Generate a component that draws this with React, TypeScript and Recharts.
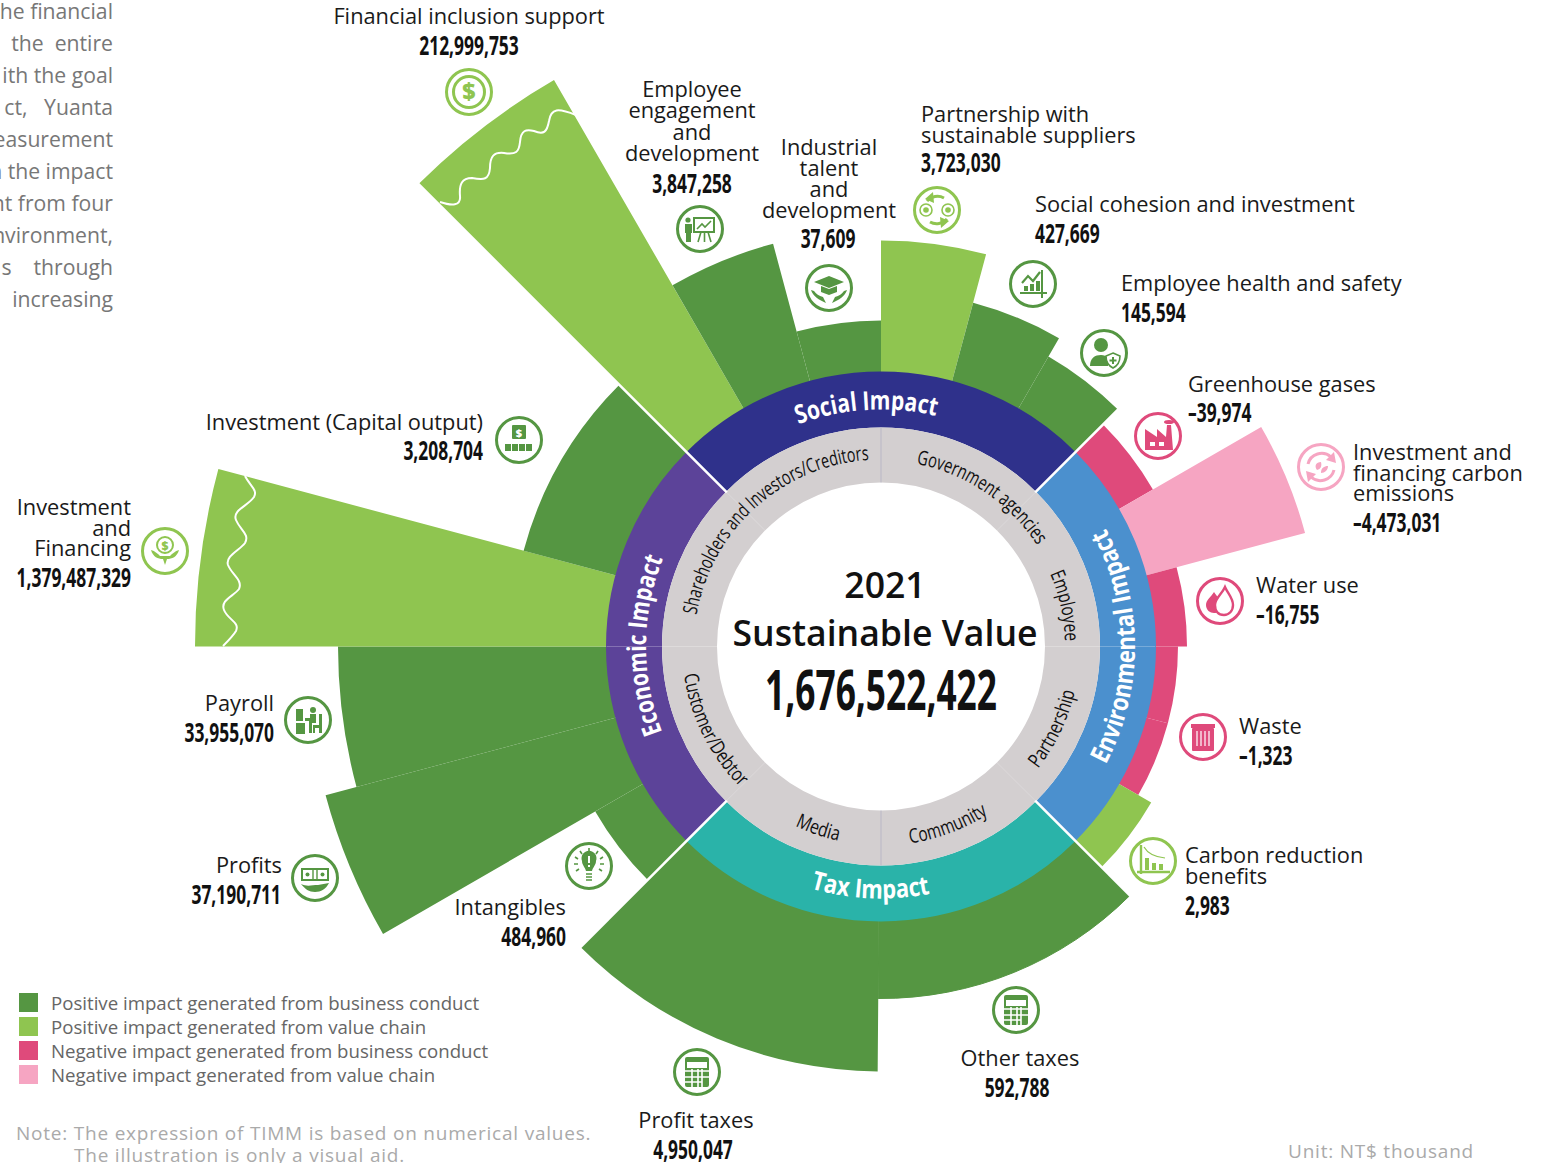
import { Legend, Pie, PieChart, Cell, Sector } from 'recharts';

// wedges clockwise from 12 o'clock, one slot is 15 degrees
const wedgeNames = [
    'Partnership with sustainable suppliers', 'Social cohesion and investment', 'Employee health and safety',
    'Greenhouse gases', 'Investment and financing carbon emissions', 'Water use', 'Waste (part)', 'Waste',
    'Carbon reduction benefits', 'Other taxes', 'Profit taxes', 'Intangibles', 'Profits', 'Payroll',
    'Investment and Financing', 'Investment (Capital output)', 'Financial inclusion support',
    'Employee engagement and development', 'Industrial talent and development',
];
const wedgeValues = [
    3723030, 427669, 145594, -39974, -4473031, -16755, null, -1323, 2983, 592788, 4950047, 484960,
    37190711, 33955070, 1379487329, 3208704, 212999753, 3847258, 37609,
];
const wedgeSlots = [1, 1, 1, 1, 1, 1, 1, 1, 1, 3.03, 2.97, 1, 1, 1, 1, 2, 1, 1, 1];
// drawn length of each wedge, the picture does not scale it with the value
const wedgeLengths = [131, 81, 60, 39, 164, 31, 22, 22, 37, 77, 150, 55, 300, 268, 411, 95, 379, 142, 51];
const wedgeKinds = ['vc', 'bc', 'bc', 'nb', 'nv', 'nb', 'nb', 'nb', 'vc', 'bc', 'bc', 'bc', 'bc', 'bc', 'vc', 'bc', 'vc', 'bc', 'bc'];

const impactNames = ['Social Impact', 'Social Impact', 'Environmental Impact', 'Environmental Impact', 'Tax Impact', 'Tax Impact', 'Economic Impact', 'Economic Impact'];
const stakeholderNames = ['Government agencies', 'Employee', 'Partnership', 'Community', 'Media', 'Customer/Debtor', 'Shareholders', 'Investors/Creditors'];

const legendKinds = ['bc', 'vc', 'nb', 'nv'];
const legendLabels = [
    'Positive impact generated from business conduct',
    'Positive impact generated from value chain',
    'Negative impact generated from business conduct',
    'Negative impact generated from value chain',
];
const introLines = ['he financial', 'the  entire', 'ith the goal', 'ct,   Yuanta', 'easurement', 'n the impact', 'nt from four', 'nvironment,', 's    through', 'increasing'];

const CX = 881;
const CY = 646.5;
const RING_OUTER = 275;
const RING_INNER = 219;
const HOLE = 164;

const kindColors: Record<string, string> = { bc: '#559642', vc: '#8FC550', nb: '#DF4A7B', nv: '#F6A5C2' };
const impactColors = ['#2F318B', '#2F318B', '#4B90CE', '#4B90CE', '#2AB3A9', '#2AB3A9', '#5C4399', '#5C4399'];
const SANS = '"Open Sans", sans-serif';

const wedgeData = wedgeNames.map((name, i) => ({ name, slots: wedgeSlots[i], length: wedgeLengths[i], value: wedgeValues[i] }));
const impactData = impactNames.map((name) => ({ name, slots: 3 }));
const stakeholderData = stakeholderNames.map((name) => ({ name, slots: 3 }));

function pt(deg: number, r: number) {
    const a = (deg * Math.PI) / 180;
    return { x: CX + r * Math.sin(a), y: CY - r * Math.cos(a) };
}

function WedgeShape(props: any) {
    // the two tax wedges meet without a seam
    const seamless = props.payload.name === 'Other taxes';
    return (
        <Sector
            {...props}
            outerRadius={RING_OUTER + props.payload.length}
            stroke={seamless ? props.fill : 'none'}
            strokeWidth={seamless ? 1 : 0}
        />
    );
}

// name, center angle, radius, text length, counter clockwise
const ringLabels: [string, number, number, number, boolean, number, string, number][] = [
    ['Social Impact', -3.5, 237, 140, false, 26, '#fff', 700],
    ['Environmental Impact', 90, 254, 246, true, 26, '#fff', 700],
    ['Tax Impact', 182.5, 252, 121, true, 26, '#fff', 700],
    ['Economic Impact', 270.3, 235, 178, false, 26, '#fff', 700],
    ['Government agencies', 34, 186, 150, false, 20, '#111', 500],
    ['Employee', 77.5, 184, 70, false, 20, '#111', 500],
    ['Partnership', 115.5, 199, 86, true, 20, '#111', 500],
    ['Community', 159.5, 199, 84, true, 20, '#111', 500],
    ['Media', 199, 199, 46, true, 20, '#111', 500],
    ['Customer/Debtor', 243.5, 199, 128, true, 20, '#111', 500],
    ['Shareholders and Investors/Creditors', 318, 187, 250, false, 20, '#111', 500],
];

function RingLabels() {
    return (
        <g>
            {ringLabels.map(([text, center, r, len, ccw, size, color, weight], i) => {
                const from = pt(center + (ccw ? 85 : -85), r);
                const to = pt(center + (ccw ? -85 : 85), r);
                const d = `M${from.x},${from.y} A${r},${r} 0 0 ${ccw ? 0 : 1} ${to.x},${to.y}`;
                return (
                    <g key={text}>
                        <path id={`ring-${i}`} d={d} fill="none" />
                        <text fontFamily={SANS} fontSize={size} fontWeight={weight} fill={color} textAnchor="middle">
                            <textPath href={`#ring-${i}`} startOffset="50%" textLength={len} lengthAdjust="spacingAndGlyphs">
                                {text}
                            </textPath>
                        </text>
                    </g>
                );
            })}
        </g>
    );
}

function Icon({ x, y, kind, glyph }: { x: number; y: number; kind: string; glyph: string }) {
    const c = kindColors[kind];
    const body = () => {
        switch (glyph) {
            case 'dollar':
                return (
                    <>
                        <circle r={15.5} fill="none" stroke={c} strokeWidth={3} />
                        <text y={8} textAnchor="middle" fontFamily={SANS} fontWeight={800} fontSize={23} fill={c}>$</text>
                    </>
                );
            case 'board':
                return (
                    <>
                        <rect x={-6} y={-11} width={20} height={14} fill="none" stroke={c} strokeWidth={2} />
                        <path d="M-3,0 L2,-5 L5,-2 L11,-8 M1,3 L-2,13 M8,3 L11,13 M4.5,3 V13" fill="none" stroke={c} strokeWidth={1.6} />
                        <circle cx={-12} cy={-9} r={2.6} fill={c} />
                        <path d="M-15,-5 H-8 V4 H-9 V13 H-14 V4 H-15 Z" fill={c} />
                    </>
                );
            case 'cap':
                return (
                    <>
                        <path d="M0,-12 L15,-6 L0,0 L-15,-6 Z M-8,-2 L0,1 L8,-2 V4 L0,7 L-8,4 Z" fill={c} />
                        <path d="M-18,2 C-16,8 -10,12 -3,15 L-6,9 C-10,8 -13,6 -15,3 Z M18,2 C16,8 10,12 3,15 L6,9 C10,8 13,6 15,3 Z" fill={c} />
                    </>
                );
            case 'cycle':
                return (
                    <>
                        <path d="M-10,-9 A14,14 0 0 1 7,-12 M10,9 A14,14 0 0 1 -7,12" fill="none" stroke={c} strokeWidth={3} />
                        <path d="M-4,-18 L-12,-11 L-3,-7 Z M4,18 L12,11 L3,7 Z" fill={c} />
                        <circle cx={-11} cy={0} r={6} fill="none" stroke={c} strokeWidth={1.6} />
                        <circle cx={11} cy={0} r={6} fill="none" stroke={c} strokeWidth={1.6} />
                        <circle cx={-11} cy={0} r={2.8} fill={c} />
                        <circle cx={11} cy={0} r={2.8} fill={c} />
                    </>
                );
            case 'growth':
                return (
                    <>
                        <path d="M-13,9 H14 M9,-14 V14" fill="none" stroke={c} strokeWidth={2} />
                        <path d="M-11,-1 L-5,-8 L0,-3 L7,-12" fill="none" stroke={c} strokeWidth={2.2} />
                        <rect x={-9} y={2} width={4} height={5} fill={c} />
                        <rect x={-3} y={0} width={4} height={7} fill={c} />
                        <rect x={3} y={-3} width={4} height={10} fill={c} />
                    </>
                );
            case 'person':
                return (
                    <>
                        <circle cx={-3} cy={-8} r={7} fill={c} />
                        <path d="M-14,13 C-14,5 -9,2 -3,2 C0,2 2,3 4,4 V13 Z" fill={c} />
                        <path d="M9,0 L16,3 C16,9 13,13 9,15 C5,13 2,9 2,3 Z" fill="#fff" stroke={c} strokeWidth={1.6} />
                        <path d="M9,4 V11 M5.5,7.5 H12.5" stroke={c} strokeWidth={2} />
                    </>
                );
            case 'factory':
                return (
                    <>
                        <path d="M-13,-7 L-1,1 V-7 L8,1 L9,-11 H13 L15,14 H-13 Z" fill={c} />
                        <ellipse cx={11} cy={-14} rx={5} ry={2} fill={c} />
                        <rect x={-8} y={6} width={5} height={4} fill="#fff" />
                        <rect x={1} y={6} width={5} height={4} fill="#fff" />
                    </>
                );
            case 'recycle':
                return (
                    <>
                        <path d="M-13,-3 A14,14 0 0 1 10,-10 M13,3 A14,14 0 0 1 -10,10" fill="none" stroke={c} strokeWidth={3} />
                        <path d="M13,-15 L15,-4 L5,-7 Z M-13,15 L-15,4 L-5,7 Z" fill={c} />
                        <path d="M-4,3 C-7,-1 -5,-5 0,-5 C1,-1 0,2 -4,3 Z M0,6 C4,6 7,3 7,-1 C3,-1 0,1 0,6 Z" fill={c} />
                    </>
                );
            case 'drop':
                return (
                    <>
                        <path d="M-6,-9 C-3,-4 2,-1 2,5 C2,10 -2,12 -6,12 C-10,12 -14,9 -14,4 C-14,-1 -9,-4 -6,-9 Z" fill={c} />
                        <path d="M5,-14 C8,-7 13,-3 13,4 C13,10 9,14 4,14 C-2,14 -5,10 -5,4 C-5,-3 2,-7 5,-14 Z" fill="#fff" stroke={c} strokeWidth={2.4} />
                    </>
                );
            case 'bin':
                return (
                    <>
                        <rect x={-12} y={-13} width={24} height={4} fill={c} />
                        <rect x={-11} y={-9} width={22} height={23} rx={1} fill={c} />
                        <path d="M-6,-6 V9 M-2,-6 V9 M2,-6 V9 M6,-6 V9" stroke="#fff" strokeWidth={1.2} />
                    </>
                );
            case 'drop-chart':
                return (
                    <>
                        <path d="M-12,-16 V13 M-16,11 H17" fill="none" stroke={c} strokeWidth={2.4} />
                        <path d="M-9,-14 C-5,-7 2,-4 12,-3" fill="none" stroke={c} strokeWidth={1.2} />
                        <rect x={-8} y={-3} width={4} height={12} fill={c} />
                        <rect x={-1} y={2} width={4} height={7} fill={c} />
                        <rect x={6} y={3} width={4} height={6} fill={c} />
                    </>
                );
            case 'calc':
                return (
                    <>
                        <rect x={-12} y={-15} width={24} height={30} rx={2} fill={c} />
                        <rect x={-10} y={-10} width={20} height={6} fill="#fff" />
                        <path d="M-12,-1 H12 M-12,5 H12 M-12,10 H5 M-5,-3 V15 M1,-3 V15 M5,-3 V15" stroke="#fff" strokeWidth={1.6} />
                    </>
                );
            case 'bulb':
                return (
                    <>
                        <path d="M-7,-5 A7.5,7.5 0 1 1 7,-5 C7,-1 4,1 3,5 H-3 C-4,1 -7,-1 -7,-5 Z" fill={c} />
                        <path d="M0,-10 V-3 M0,-1 V1" stroke="#fff" strokeWidth={2} />
                        <path d="M-3,8 H3 M-3,11 H3 M-3,14 H3" stroke={c} strokeWidth={1.6} />
                        <path d="M0,-18 V-14 M-9,-15 L-7,-12 M9,-15 L7,-12 M-14,-9 L-11,-7 M14,-9 L11,-7 M-15,-2 H-11 M15,-2 H11 M-13,5 L-10,3 M13,5 L10,3" stroke={c} strokeWidth={1.6} />
                    </>
                );
            case 'money':
                return (
                    <>
                        <rect x={-13} y={-9} width={26} height={11} fill="none" stroke={c} strokeWidth={2} />
                        <path d="M-2,-9 V2 M2,-9 V2" stroke={c} strokeWidth={1.4} />
                        <circle cx={-7.5} cy={-3.5} r={2} fill={c} />
                        <circle cx={7.5} cy={-3.5} r={2} fill={c} />
                        <path d="M-14,6 C-8,9 -3,7 3,7 L14,5 C11,11 6,14 0,14 C-6,14 -10,11 -14,6 Z" fill={c} />
                    </>
                );
            case 'desk':
                return (
                    <>
                        <rect x={-12} y={-11} width={7} height={12} fill={c} />
                        <rect x={-12} y={3} width={9} height={11} fill={c} />
                        <circle cx={5} cy={-10} r={3} fill={c} />
                        <path d="M2,-6 H8 V3 H4 V13 H1 V1 H-3 V-2 H2 Z" fill={c} />
                        <path d="M11,-6 H14 V13 H11 V8 H7 V13 H5 V5 H11 Z" fill={c} />
                    </>
                );
            case 'sprout':
                return (
                    <>
                        <circle cy={-6} r={8} fill="none" stroke={c} strokeWidth={2} />
                        <text y={-1.5} textAnchor="middle" fontFamily={SANS} fontWeight={800} fontSize={12} fill={c}>$</text>
                        <path d="M-14,-1 C-12,6 -7,8 -2,8 L0,14 L2,8 C7,8 12,6 14,-1 C10,0 7,3 5,5 H-5 C-7,3 -10,0 -14,-1 Z" fill={c} />
                    </>
                );
            default:
                return (
                    <>
                        <rect x={-7} y={-15} width={14} height={14} rx={1} fill={c} />
                        <text y={-3.5} textAnchor="middle" fontFamily={SANS} fontWeight={800} fontSize={11} fill="#fff">$</text>
                        <rect x={-14} y={4} width={6} height={7} fill={c} />
                        <rect x={-7} y={4} width={6} height={7} fill={c} />
                        <rect x={0} y={4} width={6} height={7} fill={c} />
                        <rect x={7} y={4} width={6} height={7} fill={c} />
                    </>
                );
        }
    };
    return (
        <g transform={`translate(${x},${y})`}>
            <circle r={22.5} fill="#fff" stroke={c} strokeWidth={3} />
            {body()}
        </g>
    );
}

// wedge index, text lines, anchor, text x, number x, first baseline, line gap, number baseline
const labelSpots: [number, string[], string, number, number, number, number, number][] = [
    [16, ['Financial inclusion support'], 'middle', 469, 469, 24, 21, 55],
    [17, ['Employee', 'engagement', 'and', 'development'], 'middle', 692, 692, 97, 21.3, 193],
    [18, ['Industrial', 'talent', 'and', 'development'], 'middle', 829, 828, 155, 21, 248],
    [0, ['Partnership with', 'sustainable suppliers'], 'start', 921, 921, 122, 20.5, 172],
    [1, ['Social cohesion and investment'], 'start', 1035, 1035, 212, 21, 243],
    [2, ['Employee health and safety'], 'start', 1121, 1121, 291, 21, 322],
    [3, ['Greenhouse gases'], 'start', 1188, 1188, 392, 21, 422],
    [4, ['Investment and', 'financing carbon', 'emissions'], 'start', 1353, 1353, 460, 20.7, 532],
    [5, ['Water use'], 'start', 1256, 1256, 593, 21, 624],
    [7, ['Waste'], 'start', 1239, 1239, 734, 21, 765],
    [8, ['Carbon reduction', 'benefits'], 'start', 1185, 1185, 863, 21, 915],
    [9, ['Other taxes'], 'middle', 1020, 1017, 1066, 21, 1097],
    [10, ['Profit taxes'], 'middle', 696, 693, 1128, 21, 1159],
    [11, ['Intangibles'], 'end', 566, 566, 915, 21, 946],
    [12, ['Profits'], 'end', 282, 281, 873, 21, 904],
    [13, ['Payroll'], 'end', 274, 274, 711, 21, 742],
    [14, ['Investment', 'and', 'Financing'], 'end', 131, 131, 515, 20.5, 587],
    [15, ['Investment (Capital output)'], 'end', 483, 483, 430, 21, 460],
];

const iconSpots: [number, number, number, string][] = [
    [16, 469, 92, 'dollar'], [17, 700, 229, 'board'], [18, 829, 288, 'cap'], [0, 937, 210, 'cycle'],
    [1, 1033, 284, 'growth'], [2, 1104, 353, 'person'], [3, 1158, 436, 'factory'], [4, 1321, 467, 'recycle'],
    [5, 1220, 601, 'drop'], [7, 1203, 737, 'bin'], [8, 1153, 861, 'drop-chart'], [9, 1016, 1010, 'calc'],
    [10, 697, 1072, 'calc'], [11, 589, 866, 'bulb'], [12, 315, 878, 'money'], [13, 308, 720, 'desk'],
    [14, 165, 551, 'sprout'], [15, 519, 440, 'capital'],
];

// white gaps between the four impact groups: angle, how far out
const groupGaps: [number, number][] = [[45, 345], [135, 360], [225, 430], [315, 655]];

function NumberText({ x, y, anchor, text, size = 26, squeeze = 0.67 }: any) {
    return (
        <text
            transform={`translate(${x},${y}) scale(${squeeze},1)`}
            textAnchor={anchor}
            fontFamily={SANS}
            fontWeight={700}
            fontSize={size}
            fill="#111"
        >
            {text}
        </text>
    );
}

// sits above the chart, the pies paint over anything placed inside it
function Annotations() {
    return (
        <svg width={1549} height={1163} style={{ position: 'absolute', left: 0, top: 0, pointerEvents: 'none' }}>
            {groupGaps.map(([deg, far]) => {
                const a = pt(deg, RING_INNER - 1);
                const b = pt(deg, far);
                return <line key={deg} x1={a.x} y1={a.y} x2={b.x} y2={b.y} stroke="#fff" strokeWidth={2.6} />;
            })}
            {[0, 180].map((deg) => {
                const a = pt(deg, HOLE);
                const b = pt(deg, RING_INNER);
                return <line key={deg} x1={a.x} y1={a.y} x2={b.x} y2={b.y} stroke="#B4B1C4" strokeWidth={0.8} />;
            })}
            {/* axis breaks on the two longest wedges */}
            <path d="M440,202 C452,206 461,206 460,196 C459,184 462,178 472,178 C484,180 489,180 490,168 C490,156 494,152 504,153 C516,155 519,152 520,142 C521,130 526,129 534,131 C544,135 547,132 549,121 C551,108 558,108 576,115" fill="none" stroke="#fff" strokeWidth={2} />
            <path d="M245,476 C250,486 258,490 254,497 C248,506 232,510 236,520 C240,530 250,534 245,543 C240,550 225,556 228,565 C232,575 243,580 239,589 C234,596 220,600 224,610 C228,620 240,622 236,631 C233,636 228,641 223,646" fill="none" stroke="#fff" strokeWidth={2} />

            <RingLabels />

            <text x={885} y={598} textAnchor="middle" fontFamily={SANS} fontWeight={600} fontSize={35.6} fill="#111">2021</text>
            <text x={885} y={646} textAnchor="middle" fontFamily={SANS} fontWeight={600} fontSize={35.6} fill="#111">Sustainable Value</text>
            <NumberText x={881} y={710} anchor="middle" size={56} squeeze={0.63} text="1,676,522,422" />

            {labelSpots.map(([idx, lines, anchor, tx, nx, y0, gap, ny]) => (
                <g key={idx}>
                    {lines.map((line, i) => (
                        <text key={line} x={tx} y={y0 + i * gap} textAnchor={anchor as any} fontFamily={SANS} fontSize={21.8} fill="#1a1a1a">
                            {line}
                        </text>
                    ))}
                    <NumberText x={nx} y={ny} anchor={anchor} text={(wedgeValues[idx] as number).toLocaleString('en-US').replace('-', '\u2013')} />
                </g>
            ))}
            {iconSpots.map(([idx, x, y, glyph]) => (
                <Icon key={idx} x={x} y={y} kind={wedgeKinds[idx]} glyph={glyph} />
            ))}

            {introLines.map((line, i) => (
                <text key={line} x={113} y={19 + i * 32} textAnchor="end" fontFamily={SANS} fontSize={21.2} fill="#777" xmlSpace="preserve">
                    {line}
                </text>
            ))}
            <text x={16} y={1140} fontFamily={SANS} fontSize={19} letterSpacing={0.78} fill="#aaa">Note: The expression of TIMM is based on numerical values.</text>
            <text x={74} y={1162} fontFamily={SANS} fontSize={19} letterSpacing={0.78} fill="#aaa">The illustration is only a visual aid.</text>
            <text x={1288} y={1158} fontFamily={SANS} fontSize={19} letterSpacing={0.78} fill="#aaa">Unit: NT$ thousand</text>
        </svg>
    );
}

function LegendBox() {
    return (
        <div style={{ fontFamily: SANS, fontSize: 18.65, color: '#666', lineHeight: '24px' }}>
            {legendLabels.map((label, i) => (
                <div key={label} style={{ display: 'flex', alignItems: 'center', height: 24 }}>
                    <span style={{ width: 19, height: 19, background: kindColors[legendKinds[i]], marginRight: 13, flex: 'none', position: 'relative', top: -1 }} />
                    {label}
                </div>
            ))}
        </div>
    );
}

export default function App() {
    return (
        <div style={{ position: 'absolute', left: 0, top: 0, width: 1549, height: 1163, background: '#fff', overflow: 'hidden' }}>
            <PieChart width={1549} height={1163} margin={{ top: 0, right: 0, bottom: 0, left: 0 }}>
                <Pie
                    data={wedgeData}
                    dataKey="slots"
                    cx={CX}
                    cy={CY}
                    startAngle={90}
                    endAngle={-270}
                    innerRadius={RING_OUTER - 1}
                    outerRadius={RING_OUTER + 50}
                    stroke="none"
                    isAnimationActive={false}
                    shape={WedgeShape}
                >
                    {wedgeData.map((d, i) => (
                        <Cell key={d.name} fill={kindColors[wedgeKinds[i]]} />
                    ))}
                </Pie>
                <Pie
                    data={impactData}
                    dataKey="slots"
                    cx={CX}
                    cy={CY}
                    startAngle={135}
                    endAngle={-225}
                    innerRadius={RING_INNER}
                    outerRadius={RING_OUTER}
                    stroke="none"
                    isAnimationActive={false}
                >
                    {impactData.map((d, i) => (
                        <Cell key={i} fill={impactColors[i]} />
                    ))}
                </Pie>
                <Pie
                    data={stakeholderData}
                    dataKey="slots"
                    cx={CX}
                    cy={CY}
                    startAngle={90}
                    endAngle={-270}
                    innerRadius={HOLE}
                    outerRadius={RING_INNER}
                    fill="#D3CFD0"
                    stroke="none"
                    isAnimationActive={false}
                />
                <Legend content={<LegendBox />} wrapperStyle={{ left: 19, top: 991, width: 520 }} />
            </PieChart>
            <Annotations />
        </div>
    );
}
